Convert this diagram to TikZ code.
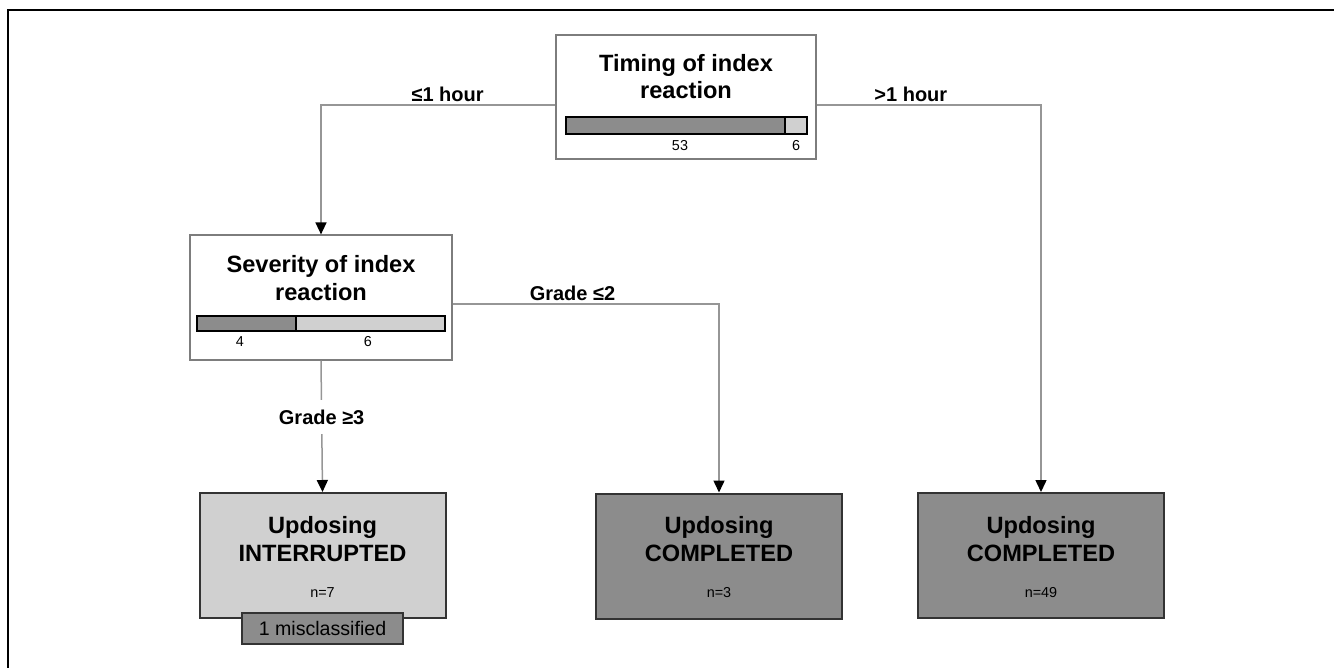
\documentclass[tikz,border=0pt]{standalone}
\usepackage{fontspec}
\setmainfont{Liberation Sans}
\usetikzlibrary{arrows.meta,positioning}
\usepackage{xcolor}
\definecolor{darkleaf}{RGB}{140,140,140}
\definecolor{lightleaf}{RGB}{208,208,208}
\definecolor{linkgray}{RGB}{150,150,150}
\definecolor{edgegray}{RGB}{125,125,125}

\begin{document}
\begin{tikzpicture}[x=0.5pt,y=-0.5pt]
	\useasboundingbox (0,0) rectangle (1334,668);
	% Draw the frame.
	\draw [line width=1pt] (7.5,668) -- (7.5,10) -- (1334,10);

	\tikzstyle{split box}=[draw=edgegray, fill=white, line width=0.6pt, minimum width=130pt, minimum height=62pt]
	\tikzstyle{leaf box}=[draw=black!80, line width=1pt, minimum width=123pt, minimum height=62.5pt]
	\tikzstyle{title text}=[align=center, font=\fontsize{11.8}{13.7}\selectfont\bfseries]
	\tikzstyle{count text}=[font=\fontsize{7.2}{9}\selectfont]
	\tikzstyle{edge label}=[font=\fontsize{10}{12}\selectfont\bfseries, inner sep=1.5pt]
	\tikzstyle{bar}=[draw=black, line width=0.9pt]
	\tikzstyle{link}=[draw=linkgray, line width=0.75pt, -{Triangle[width=5.5pt,length=6pt,color=black]}]

	% Timing split.
	\node [split box] (timing) at (686,97) {};
	\node [title text] (timing title) at (686,76.5) {Timing of index\\reaction};
	\fill [darkleaf] (566,117) rectangle (785,134);
	\fill [lightleaf] (785,117) rectangle (807,134);
	\draw [bar] (566,117) rectangle (807,134) (785,117) -- (785,134);
	\node [count text] (timing early) at (680,146) {53};
	\node [count text] (timing late) at (796,146) {6};

	% Severity split.
	\node [split box, minimum width=131pt, minimum height=62.5pt] (severity) at (321,297.5) {};
	\node [title text] (severity title) at (321,278) {Severity of index\\reaction};
	\fill [darkleaf] (197,316) rectangle (296,331);
	\fill [lightleaf] (296,316) rectangle (445,331);
	\draw [bar] (197,316) rectangle (445,331) (296,316) -- (296,331);
	\node [count text] (severity high) at (240,342) {4};
	\node [count text] (severity low) at (368,342) {6};

	% Leaves.
	\node [leaf box, fill=lightleaf] (interrupted) at (322.5,555.5) {};
	\node [title text] (interrupted title) at (322.5,539) {Updosing\\INTERRUPTED};
	\node [count text] (interrupted n) at (322.5,593) {n=7};
	\node [draw=black!80, line width=0.9pt, fill=darkleaf, minimum width=80.5pt, minimum height=15.5pt, inner sep=0pt,
	       font=\fontsize{9.8}{12}\selectfont] (misclassified) at (322.5,628.5) {1 misclassified};

	\node [leaf box, fill=darkleaf] (completed mid) at (719,556) {};
	\node [title text] (completed mid title) at (719,539) {Updosing\\COMPLETED};
	\node [count text] (completed mid n) at (719,593) {n=3};

	\node [leaf box, fill=darkleaf] (completed right) at (1041,555.5) {};
	\node [title text] (completed right title) at (1041,539) {Updosing\\COMPLETED};
	\node [count text] (completed right n) at (1041,593) {n=49};

	% Branches.
	\draw [link] ([yshift=-4pt]timing.west) -| node [edge label, above, pos=0.23] {≤1 hour} (severity.north);
	\draw [link] ([yshift=-4pt]timing.east) -| node [edge label, above, pos=0.21] {>1 hour} (completed right.north);
	\draw [link] ([yshift=-3.25pt]severity.east) -| node [edge label, above, pos=0.225] {Grade ≤2} (completed mid.north);
	\draw [link] (severity.south) -- node [edge label, fill=white, inner ysep=5pt, pos=0.43] {Grade ≥3} (interrupted.north);
\end{tikzpicture}
\end{document}
